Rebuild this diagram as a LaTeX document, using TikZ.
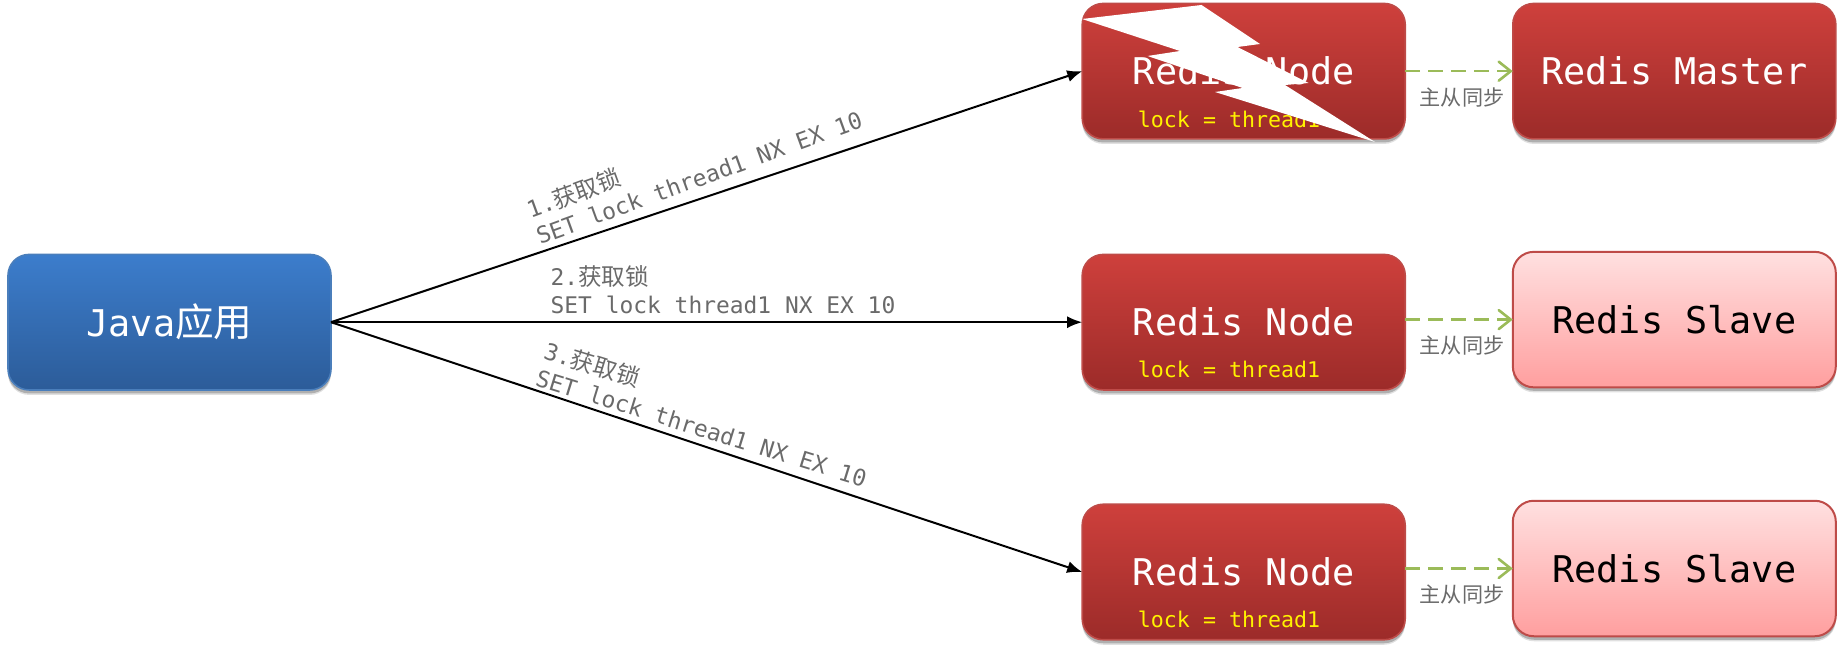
\documentclass[tikz,border=0pt]{standalone}
\usepackage{fontspec}
\setmonofont{DejaVu Sans Mono}
\newfontfamily\cjk{Noto Sans CJK SC}[Scale=1.03]
\usetikzlibrary{arrows.meta,shadows,positioning}
\definecolor{redtop}{HTML}{CE403C}
\definecolor{redbot}{HTML}{9C2B29}
\definecolor{redline}{HTML}{BE4B48}
\definecolor{bluetop}{HTML}{3C7DCC}
\definecolor{bluebot}{HTML}{2C5C99}
\definecolor{blueline}{HTML}{4A7EBB}
\definecolor{pinktop}{HTML}{FFE0E0}
\definecolor{pinkbot}{HTML}{FF9F9F}
\definecolor{syncgreen}{HTML}{9BBB59}
\definecolor{labelgray}{HTML}{6A6A6A}
\tikzset{
  softshadow/.style={
    drop shadow={shadow xshift=0pt,shadow yshift=-5pt,opacity=.12,fill=black},
    drop shadow={shadow xshift=0pt,shadow yshift=-3.5pt,opacity=.22,fill=black}},
  box/.style={rectangle,rounded corners=21pt,minimum width=323pt,minimum height=135.5pt,inner sep=0pt,outer sep=0pt,line width=1.6pt,
    font=\ttfamily\fontsize{36.8}{40}\selectfont,softshadow},
  rednode/.style={box,draw=redline,top color=redtop,bottom color=redbot,text=white},
  pinknode/.style={box,draw=redline,line width=2pt,top color=pinktop,bottom color=pinkbot,text=black},
  bluenode/.style={box,draw=blueline,top color=bluetop,bottom color=bluebot,text=white},
  locklabel/.style={font=\ttfamily\fontsize{21.6}{24}\selectfont,text=yellow,inner sep=0pt},
  calllabel/.style={font=\ttfamily\fontsize{22.9}{28}\selectfont,text=labelgray,align=left,inner sep=0pt},
  synclabel/.style={font=\cjk\fontsize{20.5}{24}\selectfont,text=labelgray,inner sep=0pt},
  callarrow/.style={line width=2pt,black,-{Latex[length=15pt,width=12pt]}},
  syncarrow/.style={line width=2.6pt,syncgreen,dash pattern=on 15pt off 8pt,-{Straight Barb[length=12pt,width=19pt,line cap=round]}},
}
\begin{document}
\begin{tikzpicture}[x=1pt,y=-1pt]
\useasboundingbox (0,0) rectangle (1844,652);
% nodes
\node[bluenode] (java) at (169.5,322.2) {\raisebox{1.5pt}{Java{\cjk\fontsize{37.5}{40}\selectfont 应用}}};
\node[rednode] (n1) at (1243.7,71.2) {Redis Node};
\node[rednode] (n2) at (1243.7,322.2) {Redis Node};
\node[rednode] (n3) at (1243.7,572) {Redis Node};
\node[rednode] (m) at (1674.3,71.2) {Redis Master};
\node[pinknode] (s1) at (1674.3,319.6) {Redis Slave};
\node[pinknode] (s2) at (1674.3,568.5) {Redis Slave};
% connectors
\draw[callarrow] (java.east) -- (n1.west);
\draw[callarrow] (java.east) -- (n2.west);
\draw[callarrow] (java.east) -- (n3.west);
\draw[syncarrow] (n1.east) -- (m.west);
\draw[syncarrow] (n2.east |- s1.west) -- (s1.west);
\draw[syncarrow] (n3.east |- s2.west) -- (s2.west);
% lock labels
\node[locklabel] (l1) at (1229,119) {lock = thread1};
\node[locklabel] (l2) at (1229,369) {lock = thread1};
\node[locklabel] (l3) at (1229,619) {lock = thread1};
% lightning
\fill[white] (1082,19) -- (1201.5,5) -- (1260,44) -- (1237.5,47) -- (1308.5,83) -- (1285,85) -- (1375,142) -- (1215,92) -- (1242.5,88) -- (1147.5,56) -- (1180,51) -- cycle;
% call labels
\node[calllabel,rotate=20] (c1) at (694,163.5) {1.{\cjk 获取锁}\\SET lock thread1 NX EX 10};
\node[calllabel] (c2) at (723,290) {2.{\cjk 获取锁}\\SET lock thread1 NX EX 10};
\node[calllabel,rotate=-17.2] (c3) at (706,413.5) {3.{\cjk 获取锁}\\SET lock thread1 NX EX 10};
% sync labels
\node[synclabel] (y1) at (1462,97) {主从同步};
\node[synclabel] (y2) at (1462,345) {主从同步};
\node[synclabel] (y3) at (1462,594) {主从同步};
\end{tikzpicture}
\end{document}
